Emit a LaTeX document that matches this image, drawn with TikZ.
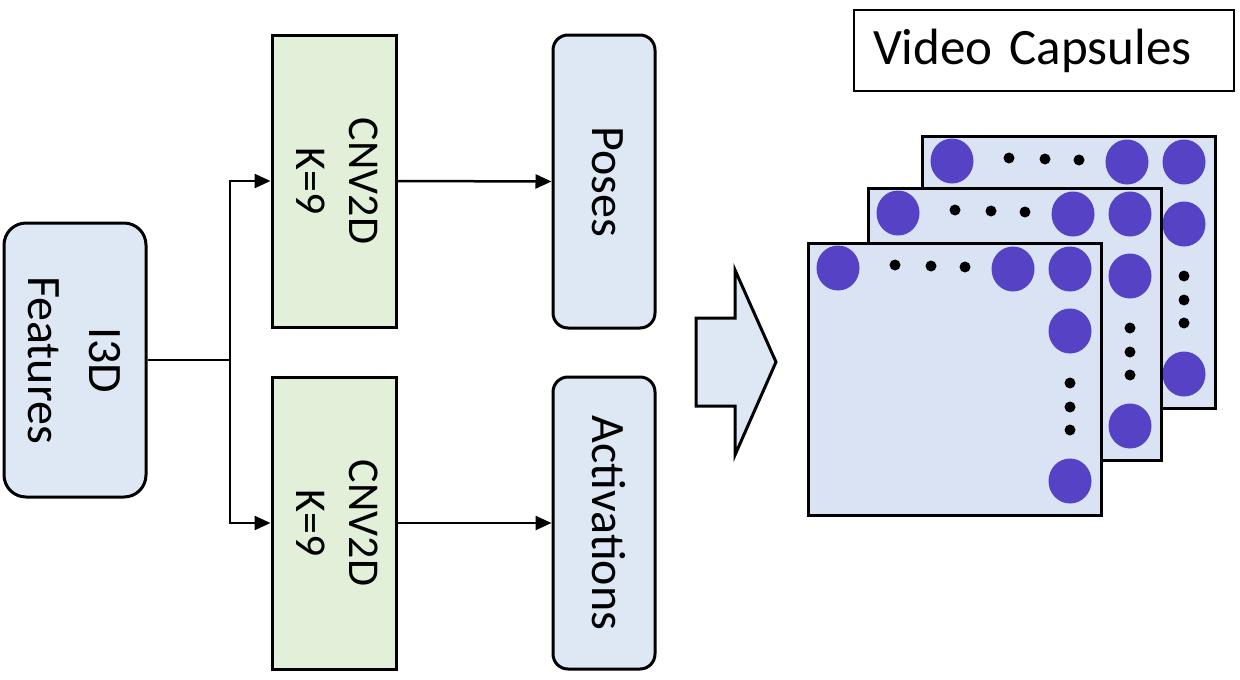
\documentclass[tikz,border=0pt]{standalone}
\usepackage{fontspec}
\setmainfont{Carlito}
\usepackage{graphicx}
\usetikzlibrary{arrows.meta}
\definecolor{boxblue}{HTML}{DEE8F4}
\definecolor{sheetblue}{HTML}{DAE3F3}
\definecolor{boxgreen}{HTML}{E2EFD9}
\definecolor{capsule}{HTML}{5542C4}
\newcommand{\rtext}[3]{\rotatebox{-90}{\fontsize{#1}{#2}\selectfont\begin{tabular}{@{}c@{}}#3\end{tabular}}}
\tikzset{
  rbox/.style={draw, line width=3pt, fill=boxblue, rounded corners=#1, inner sep=0pt},
  gbox/.style={draw, line width=3pt, fill=boxgreen, inner sep=0pt},
  arr/.style={line width=2.5pt, -{Triangle[length=16pt,width=14pt]}},
  plain/.style={line width=2.5pt},
  capsheet/.pic={
    \draw[line width=3pt, fill=sheetblue] (0,0) rectangle (293,272);
    \fill[capsule] (30,25) ellipse [x radius=21.5, y radius=22.5];
    \fill[capsule] (205,26) ellipse [x radius=21.5, y radius=22.5];
    \fill[capsule] (262,26) ellipse [x radius=21.5, y radius=22.5];
    \fill[capsule] (262,88) ellipse [x radius=21.5, y radius=22.5];
    \fill[capsule] (262,238) ellipse [x radius=21.5, y radius=22.5];
    \fill (87,22) circle (5.5);
    \fill (123,23) circle (5.5);
    \fill (157,24) circle (5.5);
    \fill (262,140) circle (5.5);
    \fill (262,164) circle (5.5);
    \fill (262,187) circle (5.5);
  }
}
\begin{document}
\begin{tikzpicture}[x=1pt, y=-1pt]
\useasboundingbox (0,0) rectangle (1240,680);

\node[rbox=22pt, minimum width=142pt, minimum height=274pt] (i3d) at (75,360)
  {\hspace*{-8pt}\rtext{48}{61}{I3D\\Features}};
\node[gbox, minimum width=124pt, minimum height=292pt] (cnv1) at (334,181)
  {\rtext{44}{53}{CNV2D\\K=9}};
\node[gbox, minimum width=124pt, minimum height=292pt] (cnv2) at (334,523)
  {\rtext{44}{53}{CNV2D\\K=9}};
\node[rbox=15pt, minimum width=102pt, minimum height=293pt] (poses) at (604,181.5)
  {\rtext{48}{58}{Poses}};
\node[rbox=15pt, minimum width=102pt, minimum height=292pt] (act) at (604,523)
  {\rtext{48}{58}{Activations}};

\coordinate (j) at (230,360);
\draw[plain] (i3d.east) -- (j);
\draw[arr] (j) |- (cnv1.west);
\draw[arr] (j) |- (cnv2.west);
\draw[arr] (cnv1.east) -- (poses.west);
\draw[arr] (cnv2.east) -- (act.west);

\draw[line width=3pt, fill=boxblue, line join=miter]
  (696,318) -- (735,318) -- (735,270) -- (776,362) -- (735,455) -- (735,406) -- (696,406) -- cycle;

\pic at (922,136) {capsheet};
\pic at (868,188) {capsheet};
\pic at (808,243) {capsheet};

\node[draw, line width=2.5pt, minimum height=81pt, text width=342pt, inner xsep=19pt, inner ysep=0pt, align=left,
  font=\fontsize{51}{60}\selectfont] (title) at (1044,50.5) {Video Capsules};
\end{tikzpicture}
\end{document}
